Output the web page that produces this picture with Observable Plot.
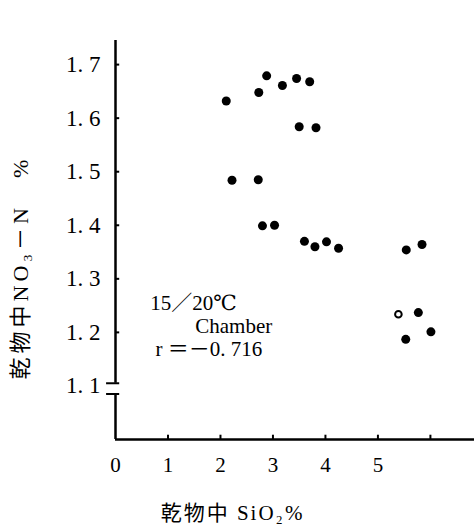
<!DOCTYPE html>
<html>
<head>
<meta charset="utf-8">
<script src="https://cdn.jsdelivr.net/npm/d3@7"></script>
<script src="https://cdn.jsdelivr.net/npm/@observablehq/plot@0.6"></script>
<style>
  html, body { margin: 0; padding: 0; background: white; }
</style>
</head>
<body>
<div id="chart"></div>
<script>
// SiO2 % in dry matter (x) vs NO3-N % in dry matter (y)
const sio2 = [2.11, 2.73, 2.88, 3.18, 3.45, 3.70, 3.50, 3.82, 2.22, 2.72, 2.80, 3.03, 3.60, 3.80, 4.02, 4.25, 5.54, 5.84, 5.39, 5.77, 5.53, 6.01];
const no3n = [1.632, 1.648, 1.679, 1.661, 1.674, 1.668, 1.584, 1.582, 1.484, 1.485, 1.399, 1.400, 1.370, 1.360, 1.369, 1.357, 1.354, 1.364, 1.234, 1.237, 1.187, 1.201];
const hollow = [false, false, false, false, false, false, false, false, false, false, false, false, false, false, false, false, false, false, true, false, false, false];

const xTickValues = [1, 2, 3, 4, 5, 6];
const xTickLabels = [0, 1, 2, 3, 4, 5];
const yTickValues = [1.1, 1.2, 1.3, 1.4, 1.5, 1.6, 1.7];
const yTickLabels = ["1. 1", "1. 2", "1. 3", "1. 4", "1. 5", "1. 6", "1. 7"];
const yAxisSegments = [[1.105, 1.745], [1.0, 1.085]];
const breakMarks = [1.105, 1.085];

const annoLines = ["15／20℃", "Chamber", "r ＝－0. 716"];
const annoX = [0.66, 1.52, 0.76];
const annoY = [1.254, 1.211, 1.168];

const yLabel = "乾物中NO₃－N　%";
const yLabelPos = {x: -1.81, y: 1.321};
const xLabel = "乾物中 SiO₂%";
const xLabelPos = {x: 2.23, y: 0.862};

const points = sio2.map((x, i) => ({x, y: no3n[i], hollow: hollow[i]}));
const annos = annoLines.map((t, i) => ({t, x: annoX[i], y: annoY[i]}));
const segs = yAxisSegments.map(([a, b]) => ({y1: a, y2: b}));

const serif = "'Liberation Serif','DejaVu Serif','Noto Sans CJK JP',serif";

const chart = Plot.plot({
  width: 474,
  height: 527,
  marginLeft: 115,
  marginRight: 0,
  marginTop: 40,
  marginBottom: 88,
  style: {fontFamily: serif, background: "white", color: "black"},
  x: {domain: [0, 6.84], axis: null},
  y: {domain: [1.0, 1.745], axis: null},
  marks: [
    // x axis line
    Plot.ruleY([1.0], {stroke: "black", strokeWidth: 2.5}),
    // y axis with break
    Plot.ruleX(segs, {x: 0, y1: "y1", y2: "y2", stroke: "black", strokeWidth: 2.5}),
    Plot.ruleY(breakMarks, {y: d => d, x1: -0.17, x2: 0.08, stroke: "black", strokeWidth: 2}),
    // inward ticks
    Plot.ruleY(yTickValues.slice(1), {y: d => d, x1: 0, x2: 0.08, stroke: "black", strokeWidth: 2}),
    Plot.ruleX(xTickValues, {x: d => d, y1: 1.0, y2: 1.008, stroke: "black", strokeWidth: 2}),
    // tick labels
    Plot.text(yTickValues, {x: 0, y: d => d, text: (d, i) => yTickLabels[i], textAnchor: "end", dx: -15, fontSize: 23, fill: "black"}),
    Plot.text(xTickLabels, {x: d => d, y: 1.0, text: d => String(d), dy: 26, fontSize: 21, fill: "black"}),
    // axis titles
    Plot.text([yLabel], {x: yLabelPos.x, y: yLabelPos.y, rotate: -90, fontSize: 22, fill: "black", style: "letter-spacing:4px"}),
    Plot.text([xLabel], {x: xLabelPos.x, y: xLabelPos.y, fontSize: 21, fill: "black"}),
    // annotation
    Plot.text(annos, {x: "x", y: "y", text: "t", textAnchor: "start", fontSize: 21, fill: "black"}),
    // data points
    Plot.dot(points.filter(d => !d.hollow), {x: "x", y: "y", r: 4.5, fill: "black", stroke: "none"}),
    Plot.dot(points.filter(d => d.hollow), {x: "x", y: "y", r: 3.3, fill: "white", stroke: "black", strokeWidth: 2})
  ]
});
// widen letter spacing of axis titles
chart.querySelectorAll("text").forEach(t => {
  if (t.textContent === yLabel) t.setAttribute("letter-spacing", "4");
  if (t.textContent === xLabel) t.setAttribute("letter-spacing", "2");
});
document.getElementById("chart").appendChild(chart);
</script>
</body>
</html>
